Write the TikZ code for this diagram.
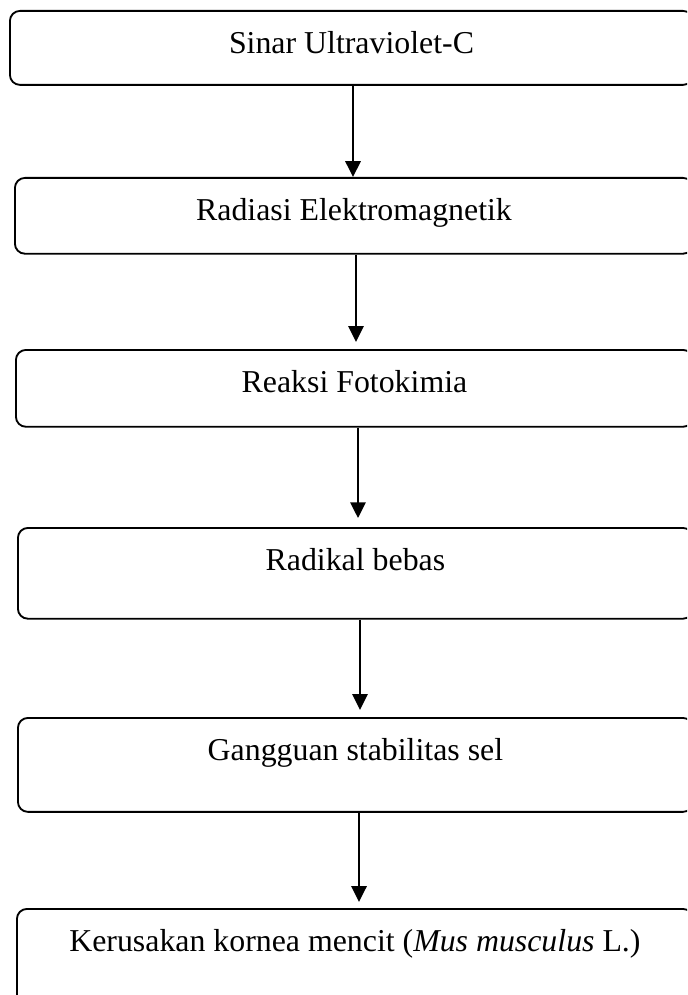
\documentclass[tikz,border=0pt]{standalone}
\usepackage{fontspec}
\setmainfont{Liberation Serif}
\usetikzlibrary{arrows.meta}

\begin{document}
\begin{tikzpicture}[x=0.38pt,y=-0.38pt,>={Triangle[length=6pt,width=5.8pt]},
  box/.style={draw,line width=0.7pt,rounded corners=3.8pt,inner sep=0pt,
    anchor=north west,text height=16.3pt,font=\fontsize{12.1}{14}\selectfont},
  flow/.style={->,line width=0.8pt}]
  \useasboundingbox (0,0) rectangle (687,995);
  \clip (0,0) rectangle (687,995);
  % boxes
  \node[box,minimum width=259.6pt,text depth=11.8pt] (uv) at (9,10) {Sinar Ultraviolet-C};
  \node[box,minimum width=257.7pt,text depth=12.5pt] (em) at (14,177) {Radiasi Elektromagnetik};
  \node[box,minimum width=257.3pt,text depth=12.9pt] (foto) at (15,349) {Reaksi Fotokimia};
  \node[box,minimum width=256.5pt,text depth=18.2pt] (radikal) at (17,527) {Radikal bebas};
  \node[box,minimum width=256.5pt,text depth=19.4pt] (sel) at (17,717) {Gangguan stabilitas sel};
  \node[box,minimum width=256.9pt,text depth=24pt] (kornea) at (16,908)
    {Kerusakan kornea mencit (\textit{Mus musculus} L.)};
  % arrows
  \draw[flow] (uv.south -| 353,0) -- (em.north -| 353,0);
  \draw[flow,shorten >=2.7pt] (em.south -| 356,0) -- (foto.north -| 356,0);
  \draw[flow,shorten >=3.4pt] (foto.south -| 358,0) -- (radikal.north -| 358,0);
  \draw[flow,shorten >=2.7pt] (radikal.south -| 360,0) -- (sel.north -| 360,0);
  \draw[flow,shorten >=2.3pt] (sel.south -| 359,0) -- (kornea.north -| 359,0);
\end{tikzpicture}
\end{document}
